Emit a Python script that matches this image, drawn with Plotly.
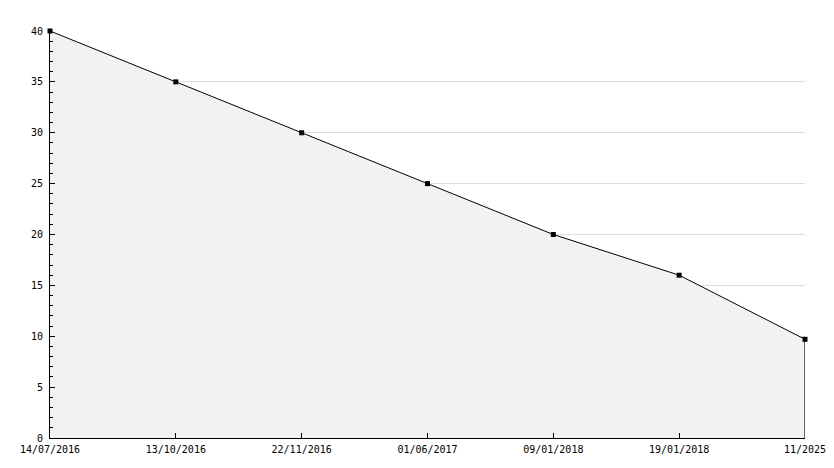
import plotly.graph_objects as go

dates = ["14/07/2016", "13/10/2016", "22/11/2016", "01/06/2017", "09/01/2018", "19/01/2018", "11/2025"]
values = [40, 35, 30, 25, 20, 16, 9.7]

font = dict(family="DejaVu Sans Mono", size=10, color="#000000")

fig = go.Figure()
fig.add_trace(go.Scatter(
    x=dates, y=values, mode="lines+markers",
    line=dict(color="#000000", width=1),
    marker=dict(color="#000000", size=5, symbol="square"),
    fill="tozeroy", fillcolor="#f2f2f2",
    cliponaxis=False, hoverinfo="x+y",
))
# closing edge of the filled area at the last point
fig.add_trace(go.Scatter(
    x=[dates[-1], dates[-1]], y=[0, values[-1]], mode="lines",
    line=dict(color="#000000", width=1.2), hoverinfo="skip", cliponaxis=False,
))

fig.update_layout(
    width=826, height=460,
    margin=dict(l=42, r=29, t=23, b=30, autoexpand=False),
    paper_bgcolor="#ffffff", plot_bgcolor="#ffffff",
    showlegend=False, font=font,
)
fig.update_xaxes(
    type="category", range=[0, len(dates) - 1], automargin=False,
    showgrid=False, showline=True, linecolor="#000000", linewidth=1,
    ticks="inside", ticklen=5, tickcolor="#000000",
    tickfont=font, zeroline=False, ticklabelstandoff=2,
)
fig.update_yaxes(
    range=[0, 40], dtick=5, tick0=0, automargin=False,
    showgrid=True, gridcolor="#dddddd", gridwidth=1,
    showline=True, linecolor="#000000", linewidth=1,
    ticks="inside", ticklen=5, tickcolor="#000000",
    minor=dict(ticks="inside", ticklen=3, dtick=1, tickcolor="#000000", showgrid=False),
    tickfont=font, zeroline=False, ticklabelstandoff=4,
)
fig.write_html("out.html")
